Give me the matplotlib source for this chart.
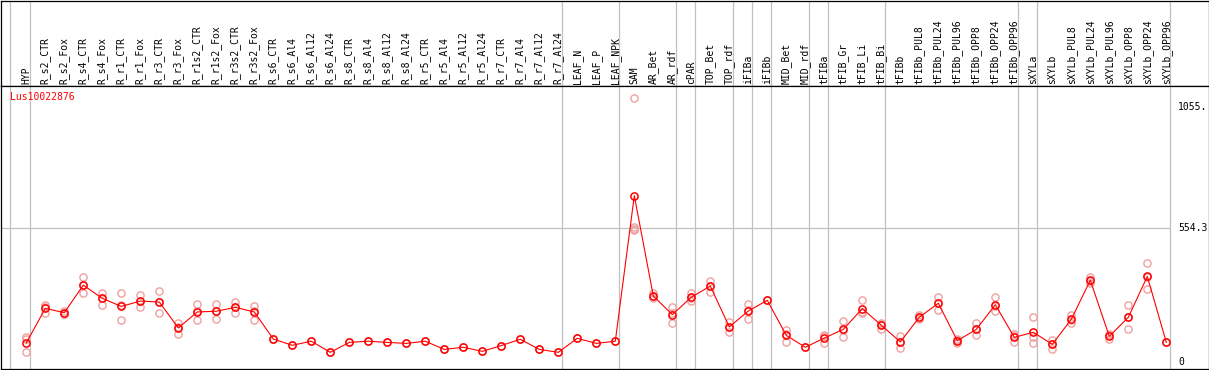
import matplotlib
matplotlib.use('Agg')
import matplotlib.pyplot as plt

GENE = 'Lus10022876'

samples = ['HYP',
           'R_s2_CTR', 'R_s2_Fox', 'R_s4_CTR', 'R_s4_Fox', 'R_r1_CTR', 'R_r1_Fox',
           'R_r3_CTR', 'R_r3_Fox', 'R_r1s2_CTR', 'R_r1s2_Fox', 'R_r3s2_CTR',
           'R_r3s2_Fox', 'R_s6_CTR', 'R_s6_Al4', 'R_s6_Al12', 'R_s6_Al24',
           'R_s8_CTR', 'R_s8_Al4', 'R_s8_Al12', 'R_s8_Al24', 'R_r5_CTR',
           'R_r5_Al4', 'R_r5_Al12', 'R_r5_Al24', 'R_r7_CTR', 'R_r7_Al4',
           'R_r7_Al12', 'R_r7_Al24',
           'LEAF_N', 'LEAF_P', 'LEAF_NPK',
           'SAM', 'AR_Bet', 'AR_rdf', 'cPAR', 'TOP_Bet', 'TOP_rdf', 'iFIBa',
           'iFIBb', 'MID_Bet', 'MID_rdf', 'tFIBa', 'tFIB_Gr', 'tFIB_Li',
           'tFIB_Bi', 'tFIBb', 'tFIBb_PUL8', 'tFIBb_PUL24', 'tFIBb_PUL96',
           'tFIBb_OPP8', 'tFIBb_OPP24', 'tFIBb_OPP96', 'sXYLa', 'sXYLb',
           'sXYLb_PUL8', 'sXYLb_PUL24', 'sXYLb_PUL96', 'sXYLb_OPP8',
           'sXYLb_OPP24', 'sXYLb_OPP96']

means = [79,
         222, 204, 318, 263, 230, 252, 248, 141, 207, 210, 226, 207,
         95, 69, 86, 40, 81, 86, 81, 77, 86, 52, 61, 44, 68, 94, 52, 40,
         98, 77, 86,
         688, 273, 196, 268, 314, 145, 211, 255, 110, 61, 99, 135, 221,
         152, 83, 185, 243, 88, 135, 237, 102, 123, 73, 177, 338, 106,
         185, 354, 81]

replicates = [[105, 95, 40],
              [236, 204, 226], [211, 200, 200], [350, 284, 320],
              [287, 236, 266], [284, 172, 234], [277, 226, 253],
              [294, 203, 247], [163, 117, 143], [239, 172, 210],
              [239, 179, 212], [249, 201, 228], [233, 175, 213],
              [95], [69], [86], [40], [81], [86], [81], [77], [86], [52],
              [61], [44], [68], [94], [52], [40],
              [98], [77], [86],
              [1091, 560, 552, 548], [284, 263, 273], [226, 160, 202],
              [287, 254, 263], [336, 290, 316], [165, 125, 145],
              [240, 179, 214], [255], [132, 84, 114], [61],
              [110, 80, 107], [168, 105, 132], [256, 201, 206],
              [163, 135, 158], [108, 58, 83], [196, 177, 182],
              [268, 215, 246], [94, 80, 90], [160, 110, 135],
              [268, 212, 231], [116, 83, 107], [187, 105, 80],
              [91, 55, 73], [196, 160, 175], [353, 326, 335],
              [110, 94, 114], [235, 135, 185], [409, 301, 352], [81]]

# last sample of each tissue group, a grey separator follows it
group_ends = [0, 28, 31, 34, 35, 37, 38, 39, 41, 42, 45, 52, 53, 60]

y_ticks = [1055, 554.3, 0]
y_tick_labels = ['1055.', '554.3', '0']

RED = '#ff0000'
PINK = '#f0a0a0'
GREY = '#c0c0c0'
FONT = 'DejaVu Sans Mono'
W, H = 1209, 370

fig = plt.figure(figsize=(W / 100, H / 100), dpi=100)
fig.patch.set_facecolor('white')

# header strip with sample names, plot area below
head = fig.add_axes([0.5 / W, 1 - 85.5 / H, 1208 / W, 85 / H])
ax = fig.add_axes([0.5 / W, 1 - 368.5 / H, 1208 / W, 283 / H])

xlim = (-1.358, 62.22)
for a in (head, ax):
    a.set_xlim(*xlim)
    a.set_xticks([])
    a.set_yticks([])
    for s in a.spines.values():
        s.set_linewidth(0.9)
        s.set_color('black')
    a.axvline(-0.86, color=GREY, lw=0.9, zorder=0)
    for g in group_ends:
        a.axvline(g + 0.22, color=GREY, lw=0.9, zorder=0)

head.set_ylim(0, 1)
for i, name in enumerate(samples):
    head.text(i, 0.02, name, rotation=90, ha='center', va='bottom',
              fontsize=7, family=FONT)

ax.set_ylim(-26.9, 1143.8)
ax.hlines(554.3, xlim[0], group_ends[-1] + 0.22, color=GREY, lw=0.9, zorder=0)

for i, reps in enumerate(replicates):
    ax.plot([i] * len(reps), reps, 'o', ms=5.2, mfc='none', mec=PINK,
            mew=1.0, zorder=2)

x = list(range(len(samples)))
ax.plot(x, means, '-', color=RED, lw=0.8, zorder=3)
ax.plot(x, means, 'o', ms=5.2, mfc='none', mec=RED, mew=1.1, zorder=4)

ax.text(-0.86, 1096, GENE, color=RED, fontsize=7, family=FONT,
        ha='left', va='center')

for v, lab in zip(y_ticks, y_tick_labels):
    ax.text(60.62, v, lab, fontsize=7, family=FONT, ha='left', va='center')

fig.savefig('out.png', dpi=100)
